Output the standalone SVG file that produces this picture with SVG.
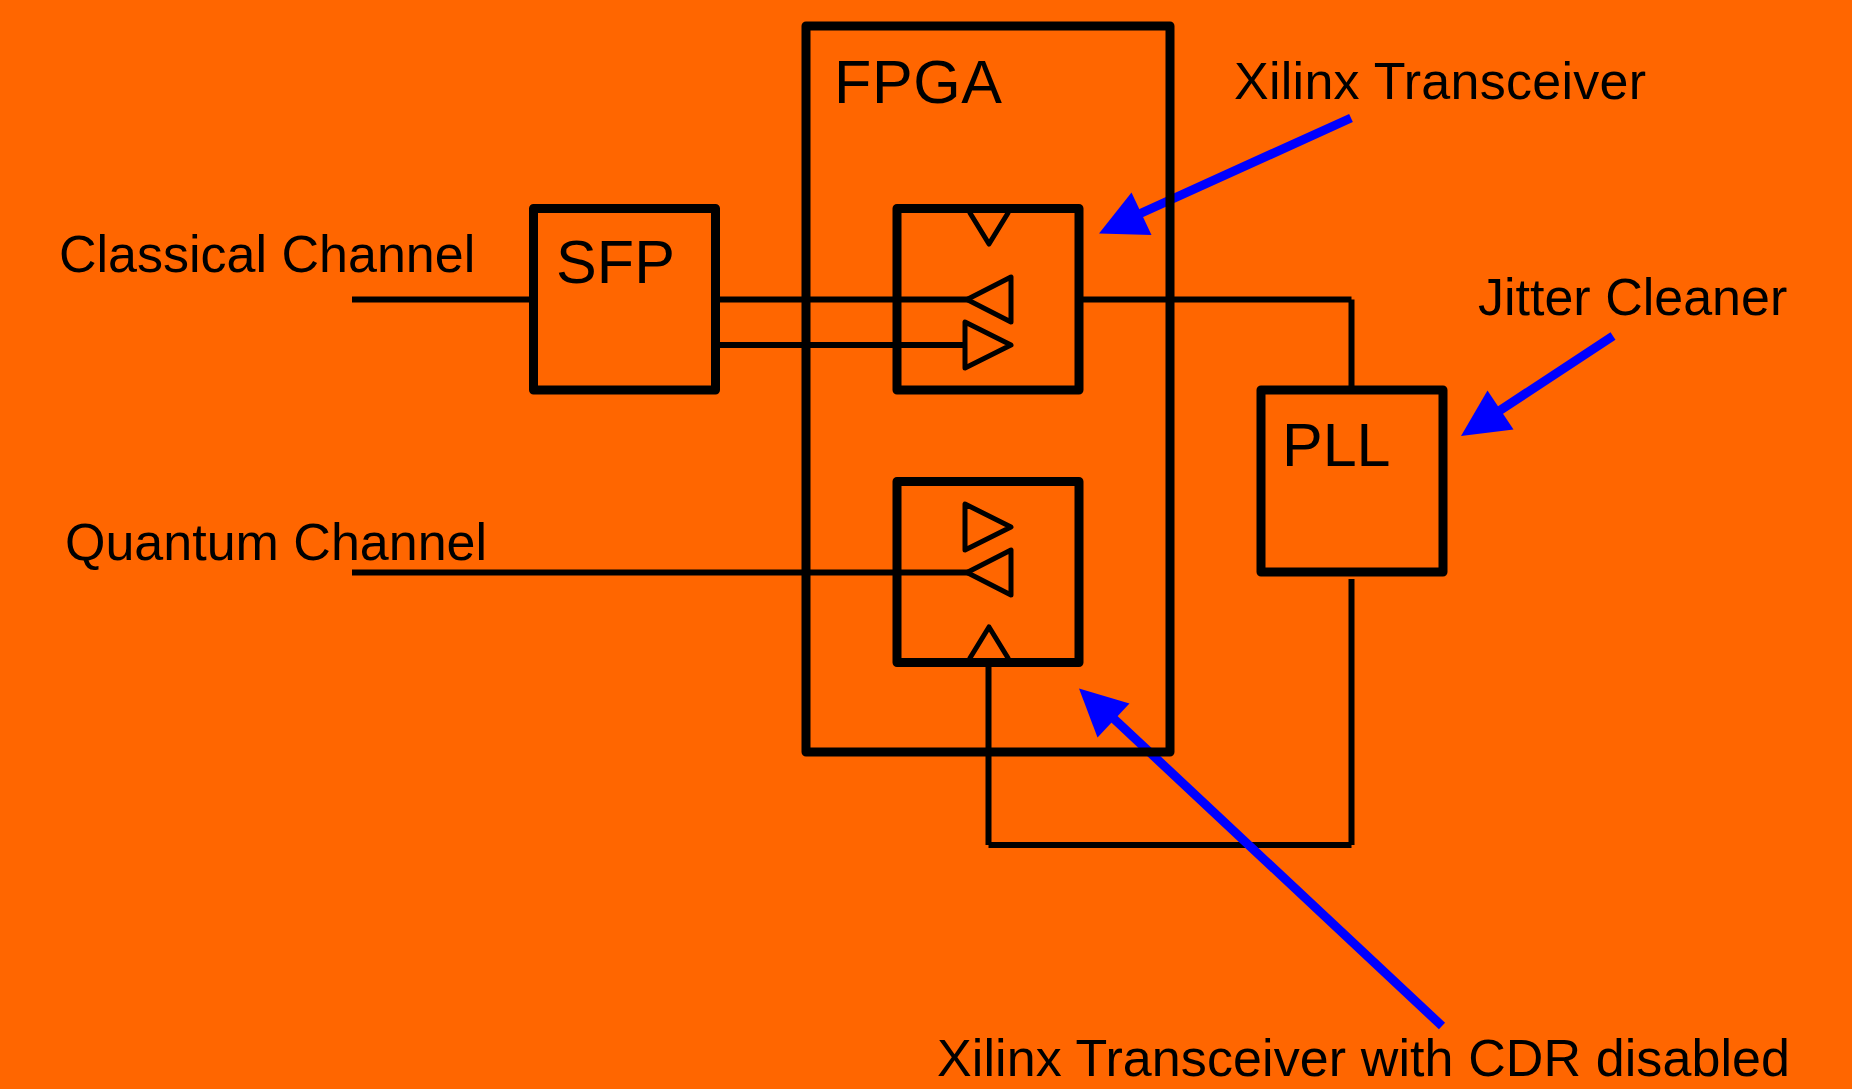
<svg xmlns="http://www.w3.org/2000/svg" width="1852" height="1089" viewBox="0 0 1852 1089">
<defs><style>
.box{fill:none;stroke:#000;stroke-width:9;stroke-linejoin:round}
.wire{fill:none;stroke:#000;stroke-width:6}
.tri{fill:none;stroke:#000;stroke-width:5;stroke-linejoin:round;stroke-linecap:round}
.ptr{fill:none;stroke:#0000ff;stroke-width:9}
.head{fill:#0000ff}
text{font-family:"Liberation Sans",Arial,sans-serif;fill:#000}
.big{font-size:61px}.lab{font-size:52px}
</style></defs>
<rect width="1852" height="1089" fill="#ff6600"/>
<g id="connectors">
<path class="wire" d="M352 299.500H532M718 299.500H968M718 345H966M1082 299.500H1351.500M1351.500 299.500V386M352 572.500H968M1351.500 579V845M1351.500 845H988.500M988.500 845V665"/>
<path class="ptr" d="M1351 118L1137 215M1613 336L1496 413M1442 1026L1112 717"/>
<polygon class="head" points="1099,233.500 1131.500,192.500 1151.500,235"/>
<polygon class="head" points="1461,436 1487.500,390.500 1513.500,429.500"/>
<polygon class="head" points="1079,688.500 1129.500,703.500 1097.500,737.500"/>
</g>
<g id="fpga"><rect class="box" x="806" y="26" width="364" height="726"/><text class="big" x="834" y="103" textLength="168">FPGA</text></g>
<g id="sfp"><rect class="box" x="533.500" y="208.500" width="182" height="181.500"/><text class="big" x="556" y="283" textLength="119">SFP</text></g>
<g id="xcvr1"><rect class="box" x="897" y="208.500" width="182" height="181.500"/>
<polyline class="tri" points="970,213 989,244 1008,213"/><polygon class="tri" points="1011,277 1011,322 967,299.500"/><polygon class="tri" points="965,322 965,368 1011,345"/></g>
<g id="xcvr2"><rect class="box" x="897" y="481.500" width="182" height="181"/>
<polygon class="tri" points="965,504 965,550 1011,527"/><polygon class="tri" points="1011,550 1011,595 967,572.500"/><polyline class="tri" points="970,658 989,627 1008,658"/></g>
<g id="pll"><rect class="box" x="1261" y="390" width="182" height="182"/><text class="big" x="1282" y="465.500">PLL</text></g>
<g id="labels">
<text class="lab" x="59" y="272">Classical Channel</text>
<text class="lab" x="65" y="560">Quantum Channel</text>
<text class="lab" x="1234" y="99" textLength="412">Xilinx Transceiver</text>
<text class="lab" x="1478" y="315">Jitter Cleaner</text>
<text class="lab" x="937" y="1076" textLength="853">Xilinx Transceiver with CDR disabled</text>
</g>
</svg>
